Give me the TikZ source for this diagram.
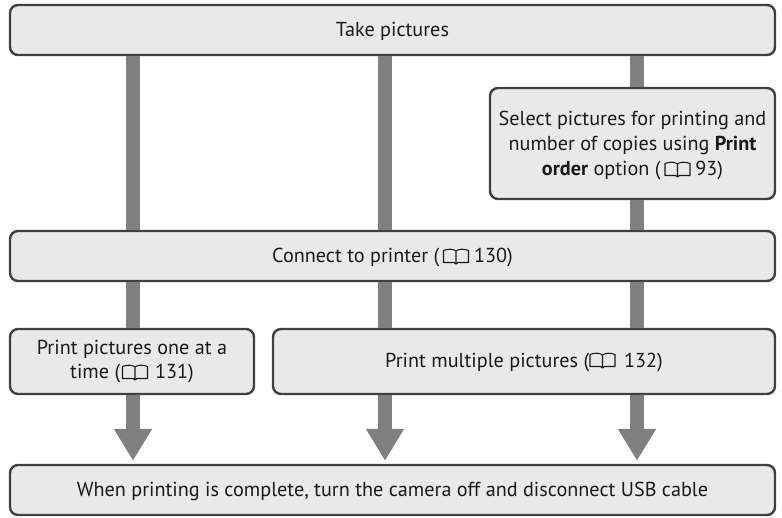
\documentclass[tikz,border=0pt]{standalone}
\usepackage{fontspec}
\setmainfont{PT Sans}
\usetikzlibrary{arrows.meta}
\definecolor{boxfill}{HTML}{E9E9E9}
\definecolor{boxline}{HTML}{404040}
\definecolor{stemcol}{HTML}{808080}
\definecolor{txt}{HTML}{1A1A1A}
\newcommand{\bk}{\hspace{29.5pt}}
\tikzset{
  flowbox/.style={draw=boxline,fill=boxfill,line width=2.4pt,rounded corners=8pt,minimum width=#1,align=center,inner sep=0pt,text=txt,font=\fontsize{20.2}{24.8}\selectfont},
  oneline/.style={text height=16.5pt,text depth=4pt},
  stem/.style={draw=stemcol,line width=14pt},
  stemarrow/.style={stem,-{Triangle[width=36pt,length=32pt,fill=stemcol]},shorten >=3pt},
  bookicon/.pic={
    \draw[txt,line width=1.1pt,line join=round,fill=none]
      (0,1.5) .. controls (-3,-0.8) and (-8,-0.8) .. (-12.5,1) -- (-12.5,13) -- (-2,13)
      .. controls (-1.2,13) and (-0.5,13.5) .. (0,14.5)
      .. controls (0.5,13.5) and (1.2,13) .. (2,13) -- (12.5,13) -- (12.5,1)
      .. controls (8,-0.8) and (3,-0.8) .. (0,1.5) -- (0,14);
  }
}
\begin{document}
\begin{tikzpicture}[x=1pt,y=-1pt]
\useasboundingbox (0,0) rectangle (782,517);
\coordinate (s1) at (133,0);
\coordinate (s2) at (385,0);
\coordinate (s3) at (637,0);
\node[flowbox=765pt,minimum height=50pt,oneline] (take) at (392.5,30) {Take pictures};
\node[flowbox=285pt,minimum height=111pt] (select) at (632.5,143.5) {\rule{0pt}{18pt}Select pictures for printing and\\number of copies using \textbf{Print}\\\textbf{order} option (\bk\ 93)};
\node[flowbox=765pt,minimum height=50pt,oneline] (connect) at (392.5,256) {Connect to printer (\bk\ 130)};
\node[flowbox=244pt,minimum height=65pt] (one) at (132,361.5) {Print pictures one at a\\time (\bk\ 131)};
\node[flowbox=502pt,minimum height=65pt,oneline] (multi) at (524,361.5) {Print multiple pictures (\bk\ 132)};
\node[flowbox=765pt,minimum height=50pt,oneline] (done) at (392.5,490) {When printing is complete, turn the camera off and disconnect USB cable};
\draw[stem] (take.south -| s1) -- (connect.north -| s1);
\draw[stem] (take.south -| s2) -- (connect.north -| s2);
\draw[stem] (take.south -| s3) -- (select.north -| s3);
\draw[stem] (select.south -| s3) -- (connect.north -| s3);
\draw[stem] (connect.south -| s1) -- (one.north -| s1);
\draw[stem] (connect.south -| s2) -- (multi.north -| s2);
\draw[stem] (connect.south -| s3) -- (multi.north -| s3);
\draw[stemarrow] (one.south -| s1) -- (done.north -| s1);
\draw[stemarrow] (multi.south -| s2) -- (done.north -| s2);
\draw[stemarrow] (multi.south -| s3) -- (done.north -| s3);
\pic at (677.5,162.5) {bookicon};
\pic at (456,249.5) {bookicon};
\pic at (135,365.5) {bookicon};
\pic at (602.5,353.5) {bookicon};
\end{tikzpicture}
\end{document}
